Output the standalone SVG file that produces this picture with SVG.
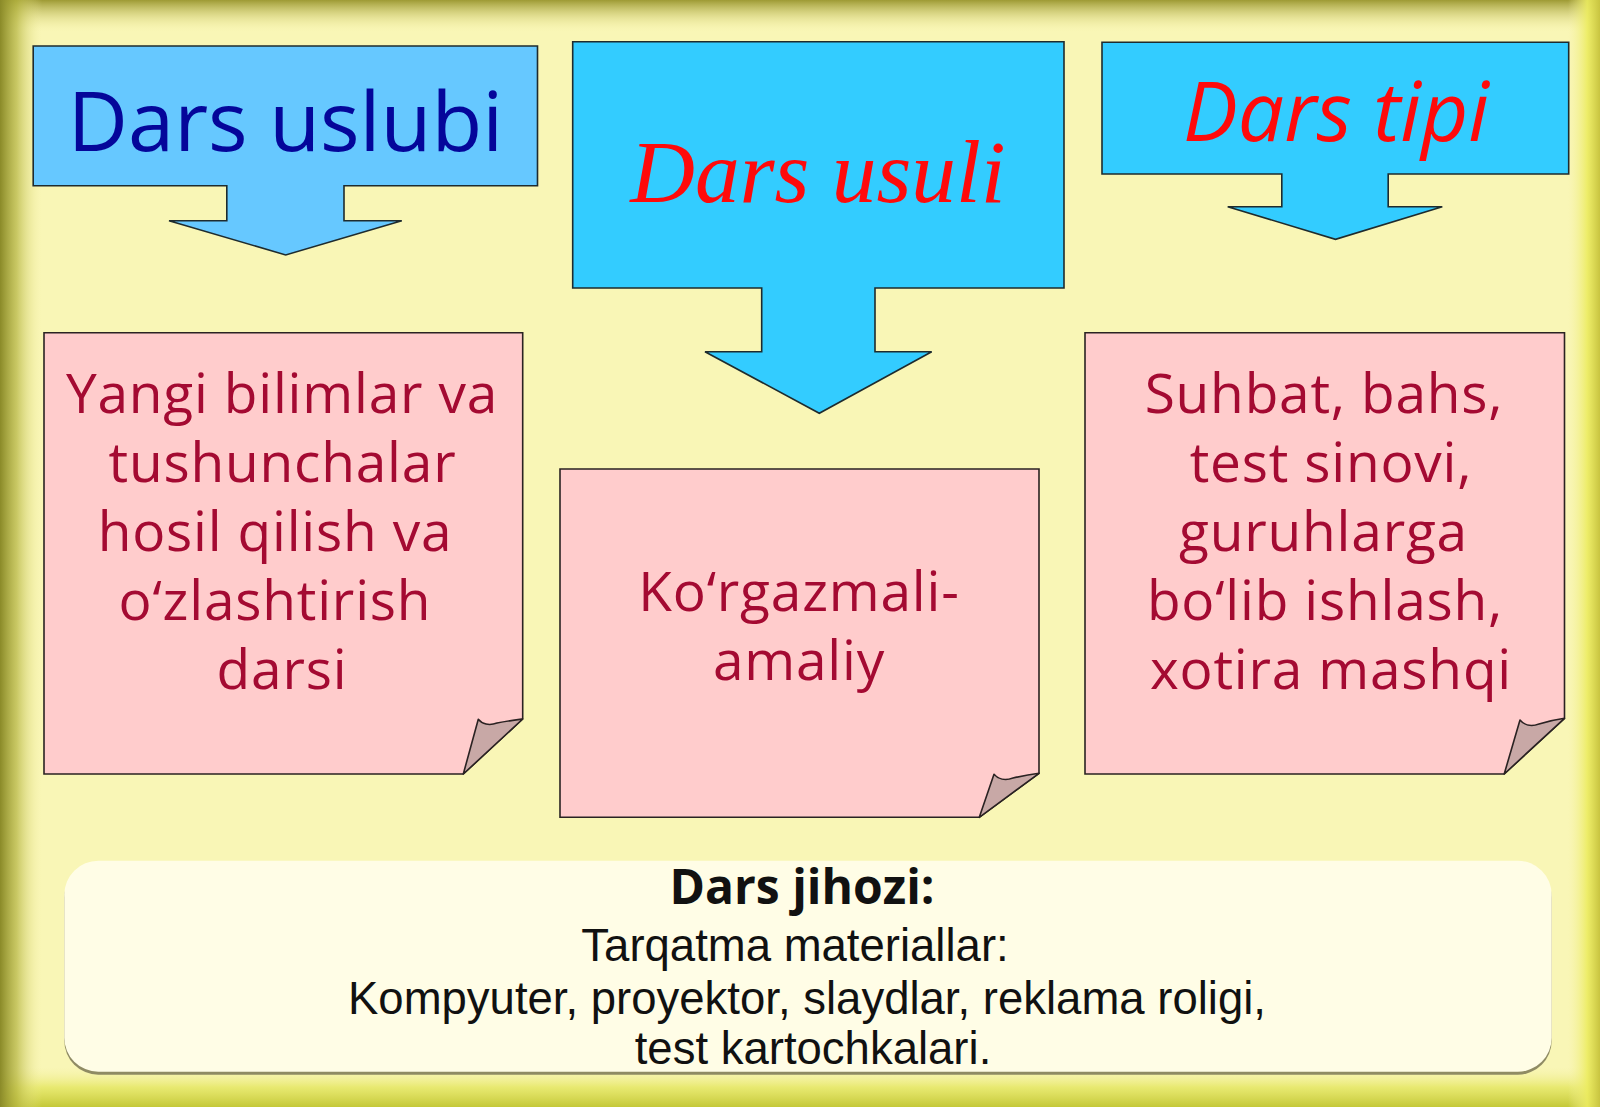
<svg xmlns="http://www.w3.org/2000/svg" width="1600" height="1107" viewBox="0 0 1600 1107">
<defs>
<linearGradient id="gTop" x1="0" y1="0" x2="0" y2="1"><stop offset="0" stop-color="#9E9A34"/><stop offset="1" stop-color="#F4F0A0" stop-opacity="0"/></linearGradient>
<linearGradient id="gLeft" x1="0" y1="0" x2="1" y2="0"><stop offset="0" stop-color="#8A8A28"/><stop offset="0.4" stop-color="#B4B440" stop-opacity="0.7"/><stop offset="1" stop-color="#F4F0A0" stop-opacity="0"/></linearGradient>
<linearGradient id="gRight" x1="1" y1="0" x2="0" y2="0"><stop offset="0" stop-color="#C8C440"/><stop offset="0.4" stop-color="#ECEC60" stop-opacity="0.9"/><stop offset="1" stop-color="#F4F0A0" stop-opacity="0"/></linearGradient>
<linearGradient id="gBottom" x1="0" y1="1" x2="0" y2="0"><stop offset="0" stop-color="#C4C838"/><stop offset="0.5" stop-color="#E4E660" stop-opacity="0.8"/><stop offset="1" stop-color="#F4F0A0" stop-opacity="0"/></linearGradient>
</defs>
<style>
.callout{stroke:#1E2B2E;stroke-width:1.6;stroke-linejoin:miter}
.note{fill:#FFCCCC;stroke:#2A2222;stroke-width:1.6}
.flap{fill:#C8A8A6;stroke:#2A2222;stroke-width:1.6;stroke-linejoin:round}
.pt{font-family:"Open Sans","Noto Sans",sans-serif;font-size:55px;letter-spacing:0.8px;fill:#A40A32;text-anchor:middle}
.bt{font-family:"Liberation Sans",Arial,sans-serif;font-size:45.5px;fill:#111;text-anchor:middle}
</style>
<rect x="0" y="0" width="1600" height="1107" fill="#F9F6B6"/>
<rect x="0" y="0" width="1600" height="32" fill="url(#gTop)"/>
<rect x="0" y="1067" width="1600" height="40" fill="url(#gBottom)"/>
<rect x="0" y="0" width="42" height="1107" fill="url(#gLeft)"/>
<rect x="1568" y="0" width="32" height="1107" fill="url(#gRight)"/>

<g id="node-dars-uslubi">
<path class="callout" fill="#66C8FF" d="M33.2,46 H537.5 V185.7 H344 V220.7 H401.8 L285.7,255 L169,220.7 H226.8 V185.7 H33.2 Z"/>
<text x="285.5" y="151" font-family="Open Sans,Noto Sans,sans-serif" font-size="83" fill="#05069A" text-anchor="middle">Dars uslubi</text>
</g>

<g id="node-dars-usuli">
<path class="callout" fill="#33CCFF" d="M572.7,41.7 H1064 V288 H875 V351.7 H931.7 L819.3,413.3 L705,351.7 H761.7 V288 H572.7 Z"/>
<text x="818" y="202" font-family="Liberation Serif,Times New Roman,serif" font-style="italic" font-size="89.5" fill="#FF0A0A" text-anchor="middle">Dars usuli</text>
</g>

<g id="node-dars-tipi">
<path class="callout" fill="#33CCFF" d="M1102,42.3 H1568.7 V174 H1388.2 V206.7 H1442.3 L1335.5,239.3 L1227.7,206.7 H1281.8 V174 H1102 Z"/>
<text x="1336" y="141" font-family="Open Sans,Noto Sans,sans-serif" font-style="italic" font-size="82" fill="#FF0A0A" text-anchor="middle">Dars tipi</text>
</g>

<g id="node-yangi-bilimlar">
<path class="note" d="M44,332.7 H522.7 V719 L463.3,774 H44 Z"/>
<path class="flap" d="M463.3,774 L478.3,719.3 C482,724 489,726 497,723 C507,721 515,720 522.7,719 Z"/>
<text class="pt" x="282" y="413">Yangi bilimlar va</text>
<text class="pt" x="282.5" y="482">tushunchalar</text>
<text class="pt" x="275" y="551">hosil qilish va</text>
<text class="pt" x="275" y="620">o‘zlashtirish</text>
<text class="pt" x="282" y="689">darsi</text>
</g>

<g id="node-korgazmali">
<path class="note" d="M560,469 H1039 V773.3 L979.3,817.3 H560 Z"/>
<path class="flap" d="M979.3,817.3 L994,774.3 C998,779 1005,781 1013,778 C1022,776 1030,774.5 1039,773.3 Z"/>
<text class="pt" x="799" y="611">Ko‘rgazmali-</text>
<text class="pt" x="799" y="680">amaliy</text>
</g>

<g id="node-suhbat">
<path class="note" d="M1085,332.7 H1564.5 V718.3 L1504.2,774 H1085 Z"/>
<path class="flap" d="M1504.2,774 L1520,720 C1524,725 1531,727 1539,724 C1549,721 1556,719.5 1564.5,718.3 Z"/>
<text class="pt" x="1324" y="413">Suhbat, bahs,</text>
<text class="pt" x="1331" y="482">test sinovi,</text>
<text class="pt" x="1323.5" y="551">guruhlarga</text>
<text class="pt" x="1325" y="620">bo‘lib ishlash,</text>
<text class="pt" x="1331" y="689">xotira mashqi</text>
</g>

<g id="node-dars-jihozi">
<rect x="64.3" y="863.7" width="1487.4" height="211" rx="34" fill="#7C7856" opacity="0.85"/>
<rect x="64.3" y="860.7" width="1487.4" height="211" rx="34" fill="#FFFDE6"/>
<text x="802" y="904" font-family="Open Sans,Noto Sans,sans-serif" font-weight="bold" font-size="48" fill="#111" text-anchor="middle">Dars jihozi:</text>
<text class="bt" x="795" y="961">Tarqatma materiallar:</text>
<text class="bt" x="807" y="1014">Kompyuter, proyektor, slaydlar, reklama roligi,</text>
<text class="bt" x="813" y="1064">test kartochkalari.</text>
</g>

<g id="connectors"></g>
</svg>
